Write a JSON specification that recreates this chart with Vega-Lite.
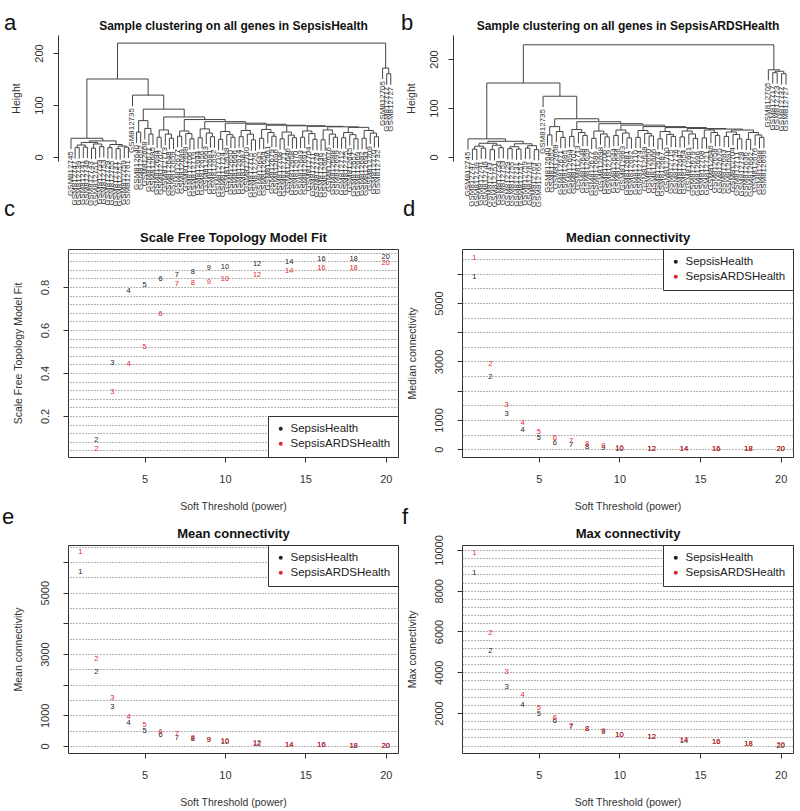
{
"$schema":"https://vega.github.io/schema/vega-lite/v6.json",
"background":"white",
"padding":{"left":1,"top":12,"right":0,"bottom":0},
"config":{
 "font":"Liberation Sans",
 "view":{"stroke":"#333","strokeWidth":1},
 "axis":{"labelFont":"Liberation Sans","titleFont":"Liberation Sans","labelColor":"#333","titleColor":"#333","tickColor":"#333","domainColor":"#333","labelFontSize":11,"titleFontSize":10.5,"titleFontWeight":"normal","grid":false},
 "title":{"font":"Liberation Sans","fontSize":22,"fontWeight":"normal","color":"#111","anchor":"start","frame":"group"},
 "legend":{"labelFont":"Liberation Sans","labelFontSize":11.5,"labelColor":"#222","strokeColor":"#333","fillColor":"white","padding":7,"symbolType":"circle","symbolSize":16,"rowPadding":2,"offset":0},
 "text":{"font":"Liberation Sans"}
},
"datasets":{
"pw":[
{"p":1,"s":"SepsisHealth","fit":null,"med":5880,"mean":5670,"max":8890},
{"p":2,"s":"SepsisHealth","fit":0.088,"med":2466,"mean":2426,"max":5064},
{"p":3,"s":"SepsisHealth","fit":0.447,"med":1200,"mean":1279,"max":3299},
{"p":4,"s":"SepsisHealth","fit":0.78,"med":650,"mean":754,"max":2402},
{"p":5,"s":"SepsisHealth","fit":0.81,"med":377,"mean":492,"max":1946},
{"p":6,"s":"SepsisHealth","fit":0.837,"med":205,"mean":361,"max":1632},
{"p":7,"s":"SepsisHealth","fit":0.856,"med":137,"mean":262,"max":1330},
{"p":8,"s":"SepsisHealth","fit":0.87,"med":68,"mean":230,"max":1200},
{"p":9,"s":"SepsisHealth","fit":0.888,"med":35,"mean":185,"max":1080},
{"p":10,"s":"SepsisHealth","fit":0.893,"med":15,"mean":140,"max":920},
{"p":12,"s":"SepsisHealth","fit":0.907,"med":5,"mean":70,"max":805},
{"p":14,"s":"SepsisHealth","fit":0.916,"med":2,"mean":35,"max":645},
{"p":16,"s":"SepsisHealth","fit":0.93,"med":1,"mean":20,"max":565},
{"p":18,"s":"SepsisHealth","fit":0.93,"med":0.5,"mean":10,"max":485},
{"p":20,"s":"SepsisHealth","fit":0.94,"med":0.3,"mean":5,"max":400},
{"p":1,"s":"SepsisARDSHealth","fit":null,"med":6540,"mean":6328,"max":9838},
{"p":2,"s":"SepsisARDSHealth","fit":0.046,"med":2910,"mean":2852,"max":5946},
{"p":3,"s":"SepsisARDSHealth","fit":0.312,"med":1507,"mean":1574,"max":4034},
{"p":4,"s":"SepsisARDSHealth","fit":0.442,"med":890,"mean":951,"max":2892},
{"p":5,"s":"SepsisARDSHealth","fit":0.52,"med":580,"mean":689,"max":2240},
{"p":6,"s":"SepsisARDSHealth","fit":0.674,"med":377,"mean":459,"max":1750},
{"p":7,"s":"SepsisARDSHealth","fit":0.814,"med":274,"mean":393,"max":1372},
{"p":8,"s":"SepsisARDSHealth","fit":0.818,"med":171,"mean":262,"max":1225},
{"p":9,"s":"SepsisARDSHealth","fit":0.823,"med":100,"mean":197,"max":1093},
{"p":10,"s":"SepsisARDSHealth","fit":0.837,"med":50,"mean":150,"max":931},
{"p":12,"s":"SepsisARDSHealth","fit":0.856,"med":15,"mean":80,"max":817},
{"p":14,"s":"SepsisARDSHealth","fit":0.874,"med":5,"mean":40,"max":652},
{"p":16,"s":"SepsisARDSHealth","fit":0.888,"med":2,"mean":20,"max":573},
{"p":18,"s":"SepsisARDSHealth","fit":0.888,"med":1,"mean":10,"max":490},
{"p":20,"s":"SepsisARDSHealth","fit":0.91,"med":0.5,"mean":5,"max":407}
],
"dendA":[
{"xl":2,"xr":3,"h":18,"yl":-3,"yr":-3},
{"xl":4,"xr":5,"h":19,"yl":-2,"yr":-2},
{"xl":6,"xr":7,"h":17,"yl":-4,"yr":-4},
{"xl":8,"xr":9,"h":20,"yl":-1,"yr":-1},
{"xl":10,"xr":11,"h":18,"yl":-3,"yr":-3},
{"xl":12,"xr":13,"h":16,"yl":-5,"yr":-5},
{"xl":14,"xr":15,"h":19,"yl":-2,"yr":-2},
{"xl":12.5,"xr":14.5,"h":21,"yl":16,"yr":19},
{"xl":2.5,"xr":4.5,"h":23,"yl":18,"yr":19},
{"xl":6.5,"xr":8.5,"h":25,"yl":17,"yr":20},
{"xl":10.5,"xr":13.5,"h":24,"yl":18,"yr":21},
{"xl":3.5,"xr":7.5,"h":28,"yl":23,"yr":25},
{"xl":5.5,"xr":12,"h":31,"yl":28,"yr":24},
{"xl":1,"xr":8.75,"h":36,"yl":15,"yr":31},
{"xl":17,"xr":18,"h":48,"yl":27,"yr":27},{"xl":20,"xr":21,"h":44,"yl":23,"yr":23},{"xl":19,"xr":20.5,"h":55,"yl":34,"yr":44},{"xl":17.5,"xr":19.75,"h":70,"yl":48,"yr":55},
{"xl":22,"xr":23,"h":38,"yl":17,"yr":17},{"xl":25,"xr":26,"h":36,"yl":15,"yr":15},{"xl":24,"xr":25.5,"h":44,"yl":23,"yr":36},{"xl":22.5,"xr":24.75,"h":52,"yl":38,"yr":44},
{"xl":27,"xr":28,"h":40,"yl":19,"yr":19},{"xl":30,"xr":31,"h":35,"yl":14,"yr":14},{"xl":29,"xr":30.5,"h":45,"yl":24,"yr":35},{"xl":27.5,"xr":29.75,"h":50,"yl":40,"yr":45},
{"xl":32,"xr":33,"h":37,"yl":16,"yr":16},{"xl":35,"xr":36,"h":39,"yl":18,"yr":18},{"xl":34,"xr":35.5,"h":46,"yl":25,"yr":39},{"xl":32.5,"xr":34.75,"h":54,"yl":37,"yr":46},
{"xl":37,"xr":38,"h":34,"yl":13,"yr":13},{"xl":40,"xr":41,"h":38,"yl":17,"yr":17},{"xl":39,"xr":40.5,"h":43,"yl":22,"yr":38},{"xl":37.5,"xr":39.75,"h":49,"yl":34,"yr":43},
{"xl":42,"xr":43,"h":39,"yl":18,"yr":18},{"xl":45,"xr":46,"h":33,"yl":12,"yr":12},{"xl":44,"xr":45.5,"h":44,"yl":23,"yr":33},{"xl":42.5,"xr":44.75,"h":51,"yl":39,"yr":44},
{"xl":47,"xr":48,"h":36,"yl":15,"yr":15},{"xl":50,"xr":51,"h":40,"yl":19,"yr":19},{"xl":49,"xr":50.5,"h":47,"yl":26,"yr":40},{"xl":47.5,"xr":49.75,"h":53,"yl":36,"yr":47},
{"xl":52,"xr":53,"h":35,"yl":14,"yr":14},{"xl":55,"xr":56,"h":37,"yl":16,"yr":16},{"xl":54,"xr":55.5,"h":42,"yl":21,"yr":37},{"xl":52.5,"xr":54.75,"h":48,"yl":35,"yr":42},
{"xl":57,"xr":58,"h":38,"yl":17,"yr":17},{"xl":60,"xr":61,"h":34,"yl":13,"yr":13},{"xl":59,"xr":60.5,"h":45,"yl":24,"yr":34},{"xl":57.5,"xr":59.75,"h":50,"yl":38,"yr":45},
{"xl":62,"xr":63,"h":33,"yl":12,"yr":12},{"xl":65,"xr":66,"h":38,"yl":17,"yr":17},{"xl":64,"xr":65.5,"h":44,"yl":23,"yr":38},{"xl":62.5,"xr":64.75,"h":52,"yl":33,"yr":44},
{"xl":67,"xr":68,"h":37,"yl":16,"yr":16},{"xl":70,"xr":71,"h":35,"yl":14,"yr":14},{"xl":69,"xr":70.5,"h":43,"yl":22,"yr":35},{"xl":67.5,"xr":69.75,"h":47,"yl":37,"yr":43},
{"xl":72,"xr":73,"h":36,"yl":15,"yr":15},{"xl":75,"xr":76,"h":39,"yl":18,"yr":18},{"xl":74,"xr":75.5,"h":46,"yl":25,"yr":39},{"xl":72.5,"xr":74.75,"h":51,"yl":36,"yr":46},
{"xl":68.625,"xr":73.625,"h":57,"yl":47,"yr":51},
{"xl":63.625,"xr":71.125,"h":58,"yl":52,"yr":57},
{"xl":58.625,"xr":67.375,"h":59,"yl":50,"yr":58},
{"xl":53.625,"xr":63,"h":60,"yl":48,"yr":59},
{"xl":48.625,"xr":58.31,"h":61,"yl":53,"yr":60},
{"xl":43.625,"xr":53.47,"h":63,"yl":51,"yr":61},
{"xl":38.625,"xr":48.55,"h":65,"yl":49,"yr":63},
{"xl":33.625,"xr":43.59,"h":68,"yl":54,"yr":65},
{"xl":28.625,"xr":38.61,"h":72,"yl":50,"yr":68},
{"xl":23.625,"xr":33.62,"h":77,"yl":52,"yr":72},
{"xl":18.625,"xr":28.62,"h":92,"yl":70,"yr":77},
{"xl":16,"xr":23.62,"h":119,"yl":98,"yr":92},
{"xl":4.875,"xr":19.81,"h":150,"yl":36,"yr":119},
{"xl":78,"xr":79,"h":160,"yl":139,"yr":139},
{"xl":77,"xr":78.5,"h":171,"yl":150,"yr":160},
{"xl":12.34,"xr":77.75,"h":219,"yl":150,"yr":171}
],
"leafA":[
{"x":1,"y":15,"id":"GSM812745"},{"x":2,"y":-3,"id":"GSM812747"},{"x":3,"y":-3,"id":"GSM812739"},{"x":4,"y":-2,"id":"GSM812741"},{"x":5,"y":-2,"id":"GSM812749"},
{"x":6,"y":-4,"id":"GSM812743"},{"x":7,"y":-4,"id":"GSM812751"},{"x":8,"y":-1,"id":"GSM812733"},{"x":9,"y":-1,"id":"GSM812753"},{"x":10,"y":-3,"id":"GSM812729"},
{"x":11,"y":-3,"id":"GSM812755"},{"x":12,"y":-5,"id":"GSM812731"},{"x":13,"y":-5,"id":"GSM812757"},{"x":14,"y":-2,"id":"GSM812759"},{"x":15,"y":-2,"id":"GSM812761"},
{"x":16,"y":98,"id":"GSM812735"},
{"x":17,"y":27,"id":"GSM812640"},{"x":18,"y":27,"id":"GSM812652"},{"x":19,"y":34,"id":"GSM812668"},{"x":20,"y":23,"id":"GSM812671"},{"x":21,"y":23,"id":"GSM812685"},
{"x":22,"y":17,"id":"GSM812694"},{"x":23,"y":17,"id":"GSM812702"},{"x":24,"y":23,"id":"GSM812713"},{"x":25,"y":15,"id":"GSM812648"},{"x":26,"y":15,"id":"GSM812659"},
{"x":27,"y":19,"id":"GSM812677"},{"x":28,"y":19,"id":"GSM812689"},{"x":29,"y":24,"id":"GSM812698"},{"x":30,"y":14,"id":"GSM812706"},{"x":31,"y":14,"id":"GSM812719"},
{"x":32,"y":16,"id":"GSM812644"},{"x":33,"y":16,"id":"GSM812656"},{"x":34,"y":25,"id":"GSM812663"},{"x":35,"y":18,"id":"GSM812681"},{"x":36,"y":18,"id":"GSM812692"},
{"x":37,"y":13,"id":"GSM812710"},{"x":38,"y":13,"id":"GSM812724"},{"x":39,"y":22,"id":"GSM812638"},{"x":40,"y":17,"id":"GSM812650"},{"x":41,"y":17,"id":"GSM812666"},
{"x":42,"y":18,"id":"GSM812674"},{"x":43,"y":18,"id":"GSM812687"},{"x":44,"y":23,"id":"GSM812700"},{"x":45,"y":12,"id":"GSM812715"},{"x":46,"y":12,"id":"GSM812726"},
{"x":47,"y":15,"id":"GSM812642"},{"x":48,"y":15,"id":"GSM812654"},{"x":49,"y":26,"id":"GSM812661"},{"x":50,"y":19,"id":"GSM812679"},{"x":51,"y":19,"id":"GSM812696"},
{"x":52,"y":14,"id":"GSM812708"},{"x":53,"y":14,"id":"GSM812721"},{"x":54,"y":21,"id":"GSM812646"},{"x":55,"y":16,"id":"GSM812658"},{"x":56,"y":16,"id":"GSM812670"},
{"x":57,"y":17,"id":"GSM812683"},{"x":58,"y":17,"id":"GSM812691"},{"x":59,"y":24,"id":"GSM812704"},{"x":60,"y":13,"id":"GSM812711"},{"x":61,"y":13,"id":"GSM812728"},
{"x":62,"y":12,"id":"GSM812636"},{"x":63,"y":12,"id":"GSM812662"},{"x":64,"y":23,"id":"GSM812676"},{"x":65,"y":17,"id":"GSM812688"},{"x":66,"y":17,"id":"GSM812699"},
{"x":67,"y":16,"id":"GSM812712"},{"x":68,"y":16,"id":"GSM812725"},{"x":69,"y":22,"id":"GSM812645"},{"x":70,"y":14,"id":"GSM812657"},{"x":71,"y":14,"id":"GSM812669"},
{"x":72,"y":15,"id":"GSM812682"},{"x":73,"y":15,"id":"GSM812693"},{"x":74,"y":25,"id":"GSM812709"},{"x":75,"y":18,"id":"GSM812720"},{"x":76,"y":18,"id":"GSM812732"},
{"x":77,"y":150,"id":"GSM812705"},{"x":78,"y":139,"id":"GSM812717"},{"x":79,"y":139,"id":"GSM812727"}
],
"dendB":[
{"xl":2,"xr":3,"h":16,"yl":-6,"yr":-6},
{"xl":4,"xr":5,"h":18,"yl":-4,"yr":-4},
{"xl":6,"xr":7,"h":15,"yl":-7,"yr":-7},
{"xl":8,"xr":9,"h":19,"yl":-3,"yr":-3},
{"xl":10,"xr":11,"h":17,"yl":-5,"yr":-5},
{"xl":12,"xr":13,"h":16,"yl":-6,"yr":-6},
{"xl":14,"xr":15,"h":18,"yl":-4,"yr":-4},
{"xl":16,"xr":17,"h":15,"yl":-7,"yr":-7},
{"xl":2.5,"xr":4.5,"h":22,"yl":16,"yr":18},
{"xl":6.5,"xr":8.5,"h":24,"yl":15,"yr":19},
{"xl":10.5,"xr":12.5,"h":21,"yl":17,"yr":16},
{"xl":14.5,"xr":16.5,"h":23,"yl":18,"yr":15},
{"xl":3.5,"xr":7.5,"h":28,"yl":22,"yr":24},
{"xl":11.5,"xr":15.5,"h":27,"yl":21,"yr":23},
{"xl":5.5,"xr":13.5,"h":32,"yl":28,"yr":27},
{"xl":1,"xr":9.5,"h":37,"yl":15,"yr":32},
{"xl":19,"xr":20,"h":45,"yl":23,"yr":23},{"xl":22,"xr":23,"h":40,"yl":18,"yr":18},{"xl":21,"xr":22.5,"h":52,"yl":30,"yr":40},{"xl":19.5,"xr":21.75,"h":62,"yl":45,"yr":52},
{"xl":24,"xr":25,"h":42,"yl":20,"yr":20},{"xl":27,"xr":28,"h":44,"yl":22,"yr":22},{"xl":26,"xr":27.5,"h":50,"yl":28,"yr":44},{"xl":24.5,"xr":26.75,"h":56,"yl":42,"yr":50},
{"xl":29,"xr":30,"h":38,"yl":16,"yr":16},{"xl":32,"xr":33,"h":41,"yl":19,"yr":19},{"xl":31,"xr":32.5,"h":47,"yl":25,"yr":41},{"xl":29.5,"xr":31.75,"h":53,"yl":38,"yr":47},
{"xl":34,"xr":35,"h":44,"yl":22,"yr":22},{"xl":37,"xr":38,"h":39,"yl":17,"yr":17},{"xl":36,"xr":37.5,"h":49,"yl":27,"yr":39},{"xl":34.5,"xr":36.75,"h":55,"yl":44,"yr":49},
{"xl":39,"xr":40,"h":40,"yl":18,"yr":18},{"xl":42,"xr":43,"h":43,"yl":21,"yr":21},{"xl":41,"xr":42.5,"h":48,"yl":26,"yr":43},{"xl":39.5,"xr":41.75,"h":54,"yl":40,"yr":48},
{"xl":44,"xr":45,"h":37,"yl":15,"yr":15},{"xl":47,"xr":48,"h":42,"yl":20,"yr":20},{"xl":46,"xr":47.5,"h":46,"yl":24,"yr":42},{"xl":44.5,"xr":46.75,"h":52,"yl":37,"yr":46},
{"xl":49,"xr":50,"h":41,"yl":19,"yr":19},{"xl":52,"xr":53,"h":38,"yl":16,"yr":16},{"xl":51,"xr":52.5,"h":47,"yl":25,"yr":38},{"xl":49.5,"xr":51.75,"h":53,"yl":41,"yr":47},
{"xl":54,"xr":55,"h":39,"yl":17,"yr":17},{"xl":57,"xr":58,"h":44,"yl":22,"yr":22},{"xl":56,"xr":57.5,"h":50,"yl":28,"yr":44},{"xl":54.5,"xr":56.75,"h":55,"yl":39,"yr":50},
{"xl":59,"xr":60,"h":42,"yl":20,"yr":20},{"xl":62,"xr":63,"h":37,"yl":15,"yr":15},{"xl":61,"xr":62.5,"h":46,"yl":24,"yr":37},{"xl":59.5,"xr":61.75,"h":51,"yl":42,"yr":46},
{"xl":64,"xr":65,"h":36,"yl":14,"yr":14},{"xl":67,"xr":68,"h":40,"yl":18,"yr":18},{"xl":66,"xr":67.5,"h":45,"yl":23,"yr":40},{"xl":64.5,"xr":66.75,"h":50,"yl":36,"yr":45},
{"xl":60.625,"xr":65.625,"h":55,"yl":51,"yr":50},
{"xl":55.625,"xr":63.125,"h":57,"yl":55,"yr":55},
{"xl":50.625,"xr":59.375,"h":58,"yl":53,"yr":57},
{"xl":45.625,"xr":55,"h":60,"yl":52,"yr":58},
{"xl":40.625,"xr":50.31,"h":62,"yl":54,"yr":60},
{"xl":35.625,"xr":45.47,"h":65,"yl":55,"yr":62},
{"xl":30.625,"xr":40.55,"h":68,"yl":53,"yr":65},
{"xl":25.625,"xr":35.59,"h":72,"yl":56,"yr":68},
{"xl":20.625,"xr":30.61,"h":78,"yl":62,"yr":72},
{"xl":18,"xr":25.62,"h":124,"yl":102,"yr":78},
{"xl":5.25,"xr":21.81,"h":151,"yl":37,"yr":124},
{"xl":72,"xr":73,"h":170,"yl":148,"yr":148},
{"xl":70,"xr":71,"h":172,"yl":150,"yr":150},
{"xl":70.5,"xr":72.5,"h":175,"yl":172,"yr":170},
{"xl":69,"xr":71.5,"h":178,"yl":156,"yr":175},
{"xl":13.53,"xr":70.25,"h":229,"yl":151,"yr":178}
],
"leafB":[
{"x":1,"y":15,"id":"GSM812745"},{"x":2,"y":-6,"id":"GSM812747"},{"x":3,"y":-6,"id":"GSM812739"},{"x":4,"y":-4,"id":"GSM812741"},{"x":5,"y":-4,"id":"GSM812749"},
{"x":6,"y":-7,"id":"GSM812743"},{"x":7,"y":-7,"id":"GSM812751"},{"x":8,"y":-3,"id":"GSM812733"},{"x":9,"y":-3,"id":"GSM812753"},{"x":10,"y":-5,"id":"GSM812729"},
{"x":11,"y":-5,"id":"GSM812755"},{"x":12,"y":-6,"id":"GSM812731"},{"x":13,"y":-6,"id":"GSM812757"},{"x":14,"y":-4,"id":"GSM812759"},{"x":15,"y":-4,"id":"GSM812761"},
{"x":16,"y":-7,"id":"GSM812763"},{"x":17,"y":-7,"id":"GSM812765"},
{"x":18,"y":102,"id":"GSM812735"},
{"x":19,"y":23,"id":"GSM812640"},{"x":20,"y":23,"id":"GSM812652"},{"x":21,"y":30,"id":"GSM812668"},{"x":22,"y":18,"id":"GSM812671"},{"x":23,"y":18,"id":"GSM812685"},
{"x":24,"y":20,"id":"GSM812694"},{"x":25,"y":20,"id":"GSM812702"},{"x":26,"y":28,"id":"GSM812713"},{"x":27,"y":22,"id":"GSM812648"},{"x":28,"y":22,"id":"GSM812659"},
{"x":29,"y":16,"id":"GSM812677"},{"x":30,"y":16,"id":"GSM812689"},{"x":31,"y":25,"id":"GSM812698"},{"x":32,"y":19,"id":"GSM812706"},{"x":33,"y":19,"id":"GSM812719"},
{"x":34,"y":22,"id":"GSM812644"},{"x":35,"y":22,"id":"GSM812656"},{"x":36,"y":27,"id":"GSM812663"},{"x":37,"y":17,"id":"GSM812681"},{"x":38,"y":17,"id":"GSM812692"},
{"x":39,"y":18,"id":"GSM812710"},{"x":40,"y":18,"id":"GSM812724"},{"x":41,"y":26,"id":"GSM812638"},{"x":42,"y":21,"id":"GSM812650"},{"x":43,"y":21,"id":"GSM812666"},
{"x":44,"y":15,"id":"GSM812674"},{"x":45,"y":15,"id":"GSM812687"},{"x":46,"y":24,"id":"GSM812700"},{"x":47,"y":20,"id":"GSM812715"},{"x":48,"y":20,"id":"GSM812726"},
{"x":49,"y":19,"id":"GSM812642"},{"x":50,"y":19,"id":"GSM812654"},{"x":51,"y":25,"id":"GSM812661"},{"x":52,"y":16,"id":"GSM812679"},{"x":53,"y":16,"id":"GSM812696"},
{"x":54,"y":17,"id":"GSM812708"},{"x":55,"y":17,"id":"GSM812721"},{"x":56,"y":28,"id":"GSM812646"},{"x":57,"y":22,"id":"GSM812658"},{"x":58,"y":22,"id":"GSM812670"},
{"x":59,"y":20,"id":"GSM812683"},{"x":60,"y":20,"id":"GSM812691"},{"x":61,"y":24,"id":"GSM812704"},{"x":62,"y":15,"id":"GSM812711"},{"x":63,"y":15,"id":"GSM812728"},
{"x":64,"y":14,"id":"GSM812636"},{"x":65,"y":14,"id":"GSM812662"},{"x":66,"y":23,"id":"GSM812676"},{"x":67,"y":18,"id":"GSM812688"},{"x":68,"y":18,"id":"GSM812699"},
{"x":69,"y":156,"id":"GSM812705"},{"x":70,"y":150,"id":"GSM812717"},{"x":71,"y":150,"id":"GSM812723"},{"x":72,"y":148,"id":"GSM812737"},{"x":73,"y":148,"id":"GSM812727"}
]
},
"columns":2,
"spacing":{"row":88,"column":64},
"bounds":"flush",
"resolve":{"scale":{"color":"independent"},"legend":{"color":"independent"}},
"concat":[
 {"width":330,"height":126,
  "title":{"text":"a","dx":-64,"offset":-16},
  "view":{"stroke":null},
  "layer":[
   {"data":{"name":"dendA"},"mark":{"type":"rule","color":"#444","strokeWidth":1},
    "encoding":{
     "x":{"field":"xl","type":"quantitative","scale":{"domain":[0.268,80.76],"nice":false,"zero":false},"axis":{"orient":"top","title":"Sample clustering on all genes in SepsisHealth","labels":false,"ticks":false,"domain":false,"grid":false,"titleFontSize":12,"titleFontWeight":"bold","titleColor":"#111","titlePadding":3}},
     "x2":{"field":"xr"},
     "y":{"field":"h","type":"quantitative","scale":{"domain":[-7.7,234.6],"nice":false,"zero":false},"axis":{"orient":"left","offset":10,"values":[0,50,100,150,200],"labelExpr":"datum.value==150?'':datum.label","title":"Height","tickSize":5,"labelAngle":270,"labelPadding":9,"titlePadding":12,"domain":true,"grid":false}}}},
   {"data":{"name":"dendA"},"mark":{"type":"rule","color":"#444","strokeWidth":1},
    "encoding":{"x":{"field":"xl","type":"quantitative"},"y":{"field":"yl","type":"quantitative"},"y2":{"field":"h"}}},
   {"data":{"name":"dendA"},"mark":{"type":"rule","color":"#444","strokeWidth":1},
    "encoding":{"x":{"field":"xr","type":"quantitative"},"y":{"field":"yr","type":"quantitative"},"y2":{"field":"h"}}},
   {"data":{"name":"leafA"},"mark":{"type":"text","angle":270,"align":"right","baseline":"middle","fontSize":8,"dx":-2,"color":"#333"},
    "encoding":{"x":{"field":"x","type":"quantitative"},"y":{"field":"y","type":"quantitative"},"text":{"field":"id"}}},
   {"mark":{"type":"rule","color":"#f03a3a","strokeWidth":1},"encoding":{"x":{"datum":-1.93},"x2":{"datum":82.2},"y":{"datum":161.5}}}
  ]},
 {"width":331,"height":126,
  "title":{"text":"b","dx":-61,"offset":-16},
  "view":{"stroke":null},
  "layer":[
   {"data":{"name":"dendB"},"mark":{"type":"rule","color":"#444","strokeWidth":1},
    "encoding":{
     "x":{"field":"xl","type":"quantitative","scale":{"domain":[-0.358,74.58],"nice":false,"zero":false},"axis":{"orient":"top","title":"Sample clustering on all genes in SepsisARDSHealth","labels":false,"ticks":false,"domain":false,"grid":false,"titleFontSize":12,"titleFontWeight":"bold","titleColor":"#111","titlePadding":3}},
     "x2":{"field":"xr"},
     "y":{"field":"h","type":"quantitative","scale":{"domain":[-8.2,249],"nice":false,"zero":false},"axis":{"orient":"left","offset":9,"values":[0,50,100,150,200],"labelExpr":"datum.value==150?'':datum.label","title":"Height","tickSize":5,"labelAngle":270,"labelPadding":9,"titlePadding":12,"domain":true,"grid":false}}}},
   {"data":{"name":"dendB"},"mark":{"type":"rule","color":"#444","strokeWidth":1},
    "encoding":{"x":{"field":"xl","type":"quantitative"},"y":{"field":"yl","type":"quantitative"},"y2":{"field":"h"}}},
   {"data":{"name":"dendB"},"mark":{"type":"rule","color":"#444","strokeWidth":1},
    "encoding":{"x":{"field":"xr","type":"quantitative"},"y":{"field":"yr","type":"quantitative"},"y2":{"field":"h"}}},
   {"data":{"name":"leafB"},"mark":{"type":"text","angle":270,"align":"right","baseline":"middle","fontSize":8,"dx":-2,"color":"#333"},
    "encoding":{"x":{"field":"x","type":"quantitative"},"y":{"field":"y","type":"quantitative"},"text":{"field":"id"}}},
   {"mark":{"type":"rule","color":"#f03a3a","strokeWidth":1},"encoding":{"x":{"datum":-2.85},"x2":{"datum":76.4},"y":{"datum":175.5}}}
  ]},
 {"width":330,"height":208,
  "title":{"text":"c","dx":-64,"offset":10},
  "data":{"name":"pw"},
  "layer":[
   {"transform":[{"filter":"datum.s==='SepsisHealth'"}],"mark":{"type":"text","fontSize":7.5},
    "encoding":{
     "x":{"field":"p","type":"quantitative","scale":{"domain":[0.24,20.76],"nice":false,"zero":false},"axis":{"orient":"bottom","values":[5,10,15,20],"title":"Soft Threshold (power)","domain":false,"grid":false,"tickSize":5,"labelPadding":11,"titlePadding":17}},
     "y":{"field":"fit","type":"quantitative","scale":{"domain":[0.009,0.977],"nice":false,"zero":false},"axis":{"orient":"left","values":[0.2,0.4,0.6,0.8],"format":".1f","title":"Scale Free Topology Model Fit","domain":false,"grid":false,"tickSize":5,"labelAngle":270,"labelPadding":13,"titlePadding":16}},
     "text":{"field":"p","type":"quantitative"},
     "color":{"field":"s","type":"nominal","scale":{"domain":["SepsisHealth","SepsisARDSHealth"],"range":["#222222","#e3262e"]},"legend":{"orient":"bottom-right","title":null}}}},
   {"transform":[{"filter":"datum.s==='SepsisARDSHealth'"}],"mark":{"type":"text","fontSize":7.5},
    "encoding":{
     "x":{"field":"p","type":"quantitative","scale":{"domain":[0.24,20.76],"nice":false,"zero":false},"axis":{"orient":"top","title":"Scale Free Topology Model Fit","labels":false,"ticks":false,"domain":false,"grid":false,"titleFontSize":13,"titleFontWeight":"bold","titleColor":"#111","titlePadding":5}},
     "y":{"field":"fit","type":"quantitative","scale":{"domain":[0.009,0.977],"nice":false,"zero":false},"axis":{"orient":"right","values":[0.04,0.08,0.12,0.16,0.2,0.24,0.28,0.32,0.36,0.4,0.44,0.48,0.52,0.56,0.6,0.64,0.68,0.72,0.76,0.8,0.84,0.88,0.92,0.96],"labels":false,"ticks":false,"domain":false,"title":null,"grid":true,"gridDash":[1,2],"gridColor":"#666"}},
     "text":{"field":"p","type":"quantitative"},
     "color":{"field":"s","type":"nominal","scale":{"domain":["SepsisHealth","SepsisARDSHealth"],"range":["#222222","#e3262e"]}}}}
  ],
  "resolve":{"axis":{"x":"independent","y":"independent"}}},
 {"width":331,"height":208,
  "title":{"text":"d","dx":-59,"offset":10},
  "data":{"name":"pw"},
  "layer":[
   {"transform":[{"filter":"datum.s==='SepsisHealth'"}],"mark":{"type":"text","fontSize":7.5},
    "encoding":{
     "x":{"field":"p","type":"quantitative","scale":{"domain":[0.24,20.76],"nice":false,"zero":false},"axis":{"orient":"bottom","values":[5,10,15,20],"title":"Soft Threshold (power)","domain":false,"grid":false,"tickSize":5,"labelPadding":11,"titlePadding":17}},
     "y":{"field":"med","type":"quantitative","scale":{"domain":[-270,6850],"nice":false,"zero":false},"axis":{"orient":"left","values":[0,1000,2000,3000,4000,5000,6000],"format":"d","labelExpr":"(datum.value==2000||datum.value==4000||datum.value==6000)?'':datum.label","title":"Median connectivity","domain":false,"grid":false,"tickSize":5,"labelAngle":270,"labelPadding":13,"titlePadding":16}},
     "text":{"field":"p","type":"quantitative"},
     "color":{"field":"s","type":"nominal","scale":{"domain":["SepsisHealth","SepsisARDSHealth"],"range":["#222222","#e3262e"]},"legend":{"orient":"top-right","title":null}}}},
   {"transform":[{"filter":"datum.s==='SepsisARDSHealth'"}],"mark":{"type":"text","fontSize":7.5},
    "encoding":{
     "x":{"field":"p","type":"quantitative","scale":{"domain":[0.24,20.76],"nice":false,"zero":false},"axis":{"orient":"top","title":"Median connectivity","labels":false,"ticks":false,"domain":false,"grid":false,"titleFontSize":13,"titleFontWeight":"bold","titleColor":"#111","titlePadding":5}},
     "y":{"field":"med","type":"quantitative","scale":{"domain":[-270,6850],"nice":false,"zero":false},"axis":{"orient":"right","values":[0,500,1000,1500,2000,2500,3000,3500,4000,4500,5000,5500,6000,6500],"labels":false,"ticks":false,"domain":false,"title":null,"grid":true,"gridDash":[1,2],"gridColor":"#666"}},
     "text":{"field":"p","type":"quantitative"},
     "color":{"field":"s","type":"nominal","scale":{"domain":["SepsisHealth","SepsisARDSHealth"],"range":["#222222","#e3262e"]}}}}
  ],
  "resolve":{"axis":{"x":"independent","y":"independent"}}},
 {"width":330,"height":208,
  "title":{"text":"e","dx":-66,"offset":-2},
  "data":{"name":"pw"},
  "layer":[
   {"transform":[{"filter":"datum.s==='SepsisHealth'"}],"mark":{"type":"text","fontSize":7.5},
    "encoding":{
     "x":{"field":"p","type":"quantitative","scale":{"domain":[0.24,20.76],"nice":false,"zero":false},"axis":{"orient":"bottom","values":[5,10,15,20],"title":"Soft Threshold (power)","domain":false,"grid":false,"tickSize":5,"labelPadding":11,"titlePadding":17}},
     "y":{"field":"mean","type":"quantitative","scale":{"domain":[-230,6557],"nice":false,"zero":false},"axis":{"orient":"left","values":[0,1000,2000,3000,4000,5000,6000],"format":"d","labelExpr":"(datum.value==2000||datum.value==4000||datum.value==6000)?'':datum.label","title":"Mean connectivity","domain":false,"grid":false,"tickSize":5,"labelAngle":270,"labelPadding":13,"titlePadding":16}},
     "text":{"field":"p","type":"quantitative"},
     "color":{"field":"s","type":"nominal","scale":{"domain":["SepsisHealth","SepsisARDSHealth"],"range":["#222222","#e3262e"]},"legend":{"orient":"top-right","title":null}}}},
   {"transform":[{"filter":"datum.s==='SepsisARDSHealth'"}],"mark":{"type":"text","fontSize":7.5},
    "encoding":{
     "x":{"field":"p","type":"quantitative","scale":{"domain":[0.24,20.76],"nice":false,"zero":false},"axis":{"orient":"top","title":"Mean connectivity","labels":false,"ticks":false,"domain":false,"grid":false,"titleFontSize":13,"titleFontWeight":"bold","titleColor":"#111","titlePadding":5}},
     "y":{"field":"mean","type":"quantitative","scale":{"domain":[-230,6557],"nice":false,"zero":false},"axis":{"orient":"right","values":[0,500,1000,1500,2000,2500,3000,3500,4000,4500,5000,5500,6000,6500],"labels":false,"ticks":false,"domain":false,"title":null,"grid":true,"gridDash":[1,2],"gridColor":"#666"}},
     "text":{"field":"p","type":"quantitative"},
     "color":{"field":"s","type":"nominal","scale":{"domain":["SepsisHealth","SepsisARDSHealth"],"range":["#222222","#e3262e"]}}}}
  ],
  "resolve":{"axis":{"x":"independent","y":"independent"}}},
 {"width":331,"height":208,
  "title":{"text":"f","dx":-60,"offset":-2},
  "data":{"name":"pw"},
  "layer":[
   {"transform":[{"filter":"datum.s==='SepsisHealth'"}],"mark":{"type":"text","fontSize":7.5},
    "encoding":{
     "x":{"field":"p","type":"quantitative","scale":{"domain":[0.24,20.76],"nice":false,"zero":false},"axis":{"orient":"bottom","values":[5,10,15,20],"title":"Soft Threshold (power)","domain":false,"grid":false,"tickSize":5,"labelPadding":11,"titlePadding":17}},
     "y":{"field":"max","type":"quantitative","scale":{"domain":[37,10245],"nice":false,"zero":false},"axis":{"orient":"left","values":[2000,4000,6000,8000,10000],"format":"d","title":"Max connectivity","domain":false,"grid":false,"tickSize":5,"labelAngle":270,"labelPadding":13,"titlePadding":16}},
     "text":{"field":"p","type":"quantitative"},
     "color":{"field":"s","type":"nominal","scale":{"domain":["SepsisHealth","SepsisARDSHealth"],"range":["#222222","#e3262e"]},"legend":{"orient":"top-right","title":null}}}},
   {"transform":[{"filter":"datum.s==='SepsisARDSHealth'"}],"mark":{"type":"text","fontSize":7.5},
    "encoding":{
     "x":{"field":"p","type":"quantitative","scale":{"domain":[0.24,20.76],"nice":false,"zero":false},"axis":{"orient":"top","title":"Max connectivity","labels":false,"ticks":false,"domain":false,"grid":false,"titleFontSize":13,"titleFontWeight":"bold","titleColor":"#111","titlePadding":5}},
     "y":{"field":"max","type":"quantitative","scale":{"domain":[37,10245],"nice":false,"zero":false},"axis":{"orient":"right","values":[400,800,1200,1600,2000,2400,2800,3200,3600,4000,4400,4800,5200,5600,6000,6400,6800,7200,7600,8000,8400,8800,9200,9600,10000],"labels":false,"ticks":false,"domain":false,"title":null,"grid":true,"gridDash":[1,2],"gridColor":"#666"}},
     "text":{"field":"p","type":"quantitative"},
     "color":{"field":"s","type":"nominal","scale":{"domain":["SepsisHealth","SepsisARDSHealth"],"range":["#222222","#e3262e"]}}}}
  ],
  "resolve":{"axis":{"x":"independent","y":"independent"}}}
]
}
